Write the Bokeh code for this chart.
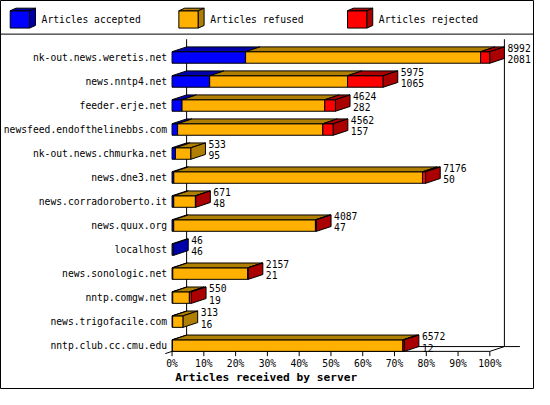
from bokeh.plotting import figure
from bokeh.models import Range1d
from bokeh.core.properties import value
from bokeh.embed import file_html
from bokeh.resources import INLINE


# data
servers = ["nk-out.news.weretis.net", "news.nntp4.net", "feeder.erje.net",
           "newsfeed.endofthelinebbs.com", "nk-out.news.chmurka.net", "news.dne3.net",
           "news.corradoroberto.it", "news.quux.org", "localhost", "news.sonologic.net",
           "nntp.comgw.net", "news.trigofacile.com", "nntp.club.cc.cmu.edu"]
accepted = [2081, 1065, 282, 157, 95, 50, 48, 47, 46, 21, 19, 16, 12]
refused = [6649, 3900, 4039, 4110, 438, 7036, 613, 4010, 0, 2121, 471, 297, 6520]
rejected = [262, 1010, 303, 295, 0, 90, 10, 30, 0, 15, 60, 0, 40]
series = ["Articles accepted", "Articles refused", "Articles rejected"]
ticks = [0, 10, 20, 30, 40, 50, 60, 70, 80, 90, 100]

colors = ["#0000ff", "#ffb000", "#ff0000"]
darks = ["#0000aa", "#b07e00", "#aa0000"]

totals = [a + r + j for a, r, j in zip(accepted, refused, rejected)]
max_total = max(totals)

# layout of the original 550x405 picture: 0% sits at x=176.7, 3.273 px per percent,
# first bar centred at y=59.3, one bar every 25 px
X0, SX = 176.7, 3.273
Y0, SY = 59.3, 25.0


def px_x(X):
    return (X - X0) / SX


def px_y(Y):
    return (Y0 - Y) / SY


W, H = 534, 389
FONT = value("DejaVu Sans Mono")
FS = "%.1fpx" % (10 * W / 550)

DX, DY = 15 / SX, 5 / SY      # 3d depth of the bars
HALF = 6 / SY                 # half height of a bar front

p = figure(width=W, height=H, x_range=Range1d(px_x(0), px_x(550)),
           y_range=Range1d(px_y(405), px_y(0)), x_axis_type=None, y_axis_type=None,
           toolbar_location=None, output_backend="svg", min_border=0)
p.outline_line_color = "black"
p.background_fill_color = "white"
p.border_fill_color = "white"

n = len(servers)
ys = [-i for i in range(n)]
floor = ys[-1] - HALF
wall_top = ys[0] + HALF + DY + 8 / SY

# back walls and floor
p.segment(x0=[DX, 100 + DX], y0=[floor + DY] * 2, x1=[DX, 100 + DX], y1=[wall_top] * 2,
          line_color="black", line_width=1)
p.segment(x0=[DX, 0, 100, DX - 22 / SX],
          y0=[floor + DY, floor, floor, floor + DY - 22 / SX * DY / DX],
          x1=[100 + DX + 16 / SX, 100, 100 + DX, DX],
          y1=[floor + DY, floor, floor + DY, floor + DY],
          line_color="black", line_width=1)

# bars
fl, fr, fb, ft, fc = [], [], [], [], []
txs, tys, tcs = [], [], []
sxs, sys_, scs = [], [], []
for i, y in enumerate(ys):
    vals = [accepted[i], refused[i], rejected[i]]
    start = 0.0
    last = None
    for k, v in enumerate(vals):
        if v <= 0:
            continue
        end = start + v / max_total * 100
        fl.append(start)
        fr.append(end)
        fb.append(y - HALF)
        ft.append(y + HALF)
        fc.append(colors[k])
        txs.append([start, end, end + DX, start + DX])
        tys.append([y + HALF, y + HALF, y + HALF + DY, y + HALF + DY])
        tcs.append(darks[k])
        start = end
        last = k
    sxs.append([start, start + DX, start + DX, start])
    sys_.append([y - HALF, y - HALF + DY, y + HALF + DY, y + HALF])
    scs.append(darks[last])

p.quad(left=fl, right=fr, bottom=fb, top=ft, fill_color=fc, line_color="black", line_width=1)
p.patches(xs=txs, ys=tys, fill_color=tcs, line_color="black", line_width=1)
p.patches(xs=sxs, ys=sys_, fill_color=scs, line_color="black", line_width=1)

# server names
p.text(x=[0] * n, y=ys, text=servers, x_offset=-5, text_align="right",
       text_baseline="middle", text_font=FONT, text_font_size=FS, text_color="black")

# total and accepted beside each bar
ends = [t / max_total * 100 + DX for t in totals]
p.text(x=ends, y=[y + 9.5 / SY for y in ys], text=[str(t) for t in totals], x_offset=3,
       text_align="left", text_baseline="middle", text_font=FONT, text_font_size=FS,
       text_color="black")
p.text(x=ends, y=[y - 2 / SY for y in ys], text=[str(a) for a in accepted], x_offset=3,
       text_align="left", text_baseline="middle", text_font=FONT, text_font_size=FS,
       text_color="black")

# x axis
p.segment(x0=ticks, y0=[floor] * len(ticks), x1=ticks, y1=[floor - 5 / SY] * len(ticks),
          line_color="black", line_width=1)
p.text(x=ticks, y=[px_y(378)] * len(ticks), text=["%d%%" % t for t in ticks],
       text_align="center", text_baseline="middle", text_font=FONT, text_font_size=FS,
       text_color="black")
p.text(x=[px_x(180)], y=[px_y(392)], text=["Articles received by server"],
       text_align="left", text_baseline="middle", text_font=FONT,
       text_font_size="%.1fpx" % (11.5 * W / 550), text_font_style="bold", text_color="black")

# legend with little cubes
p.segment(x0=[px_x(0)], y0=[px_y(35)], x1=[px_x(550)], y1=[px_y(35)], line_color="black",
          line_width=1)
ldx, ldy = 6 / SX, 2.7 / SY
for k, name in enumerate(series):
    left = px_x(10 + 173.7 * k)
    right = px_x(30 + 173.7 * k)
    top, bottom = px_y(10.7), px_y(28.7)
    p.quad(left=[left], right=[right], bottom=[bottom], top=[top], fill_color=colors[k],
           line_color="black", line_width=1)
    p.patches(xs=[[left, right, right + ldx, left + ldx], [right, right + ldx, right + ldx, right]],
              ys=[[top, top, top + ldy, top + ldy], [bottom, bottom + ldy, top + ldy, top]],
              fill_color=darks[k], line_color="black", line_width=1)
    p.text(x=[px_x(42.3 + 173.7 * k)], y=[px_y(20)], text=[name], text_align="left",
           text_baseline="middle", text_font=FONT, text_font_size=FS, text_color="black")

open("out.html", "w").write(file_html(p, INLINE))
